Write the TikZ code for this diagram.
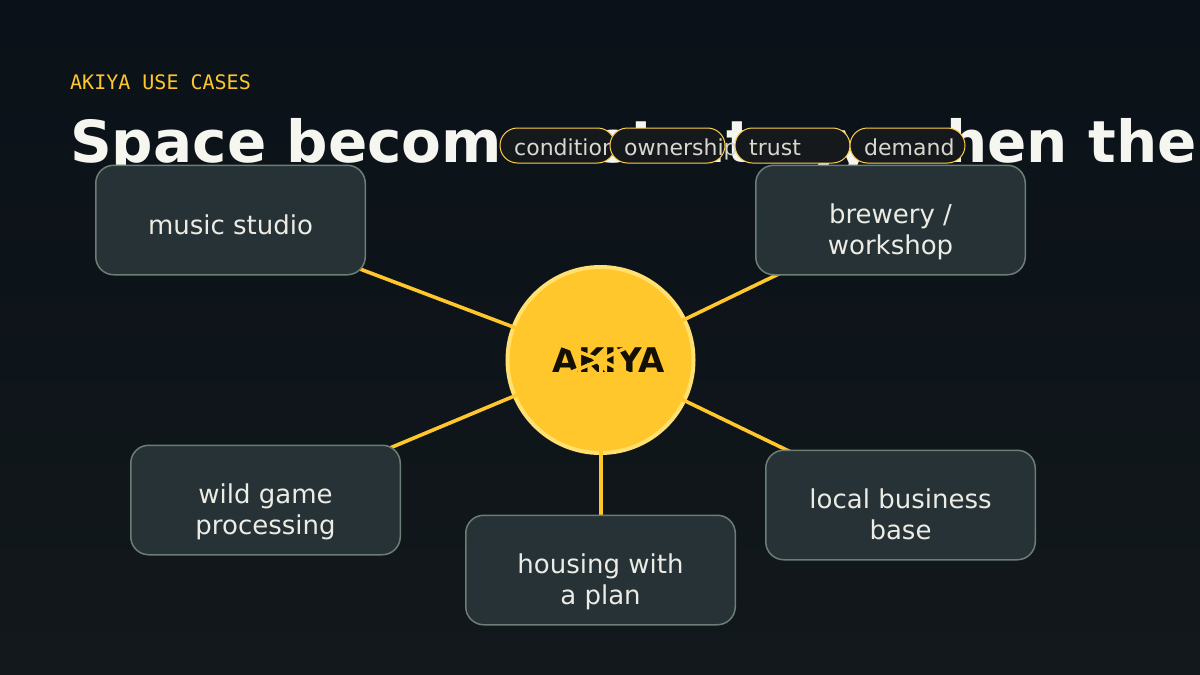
\documentclass[tikz,border=0pt]{standalone}
\usepackage{fontspec}
\setmainfont{DejaVu Sans}
\newfontfamily\monofont{DejaVu Sans Mono}
\definecolor{bgtop}{HTML}{0A1118}
\definecolor{bgbot}{HTML}{12181B}
\definecolor{gold}{HTML}{FFC72C}
\definecolor{goldlight}{HTML}{FFE071}
\definecolor{boxfill}{HTML}{263236}
\definecolor{boxline}{HTML}{6B7D75}
\definecolor{boxtext}{HTML}{ECECE4}
\definecolor{pillfill}{HTML}{15191C}
\definecolor{pilltext}{HTML}{D8D8D0}
\definecolor{titlecol}{HTML}{F6F6F0}
\tikzset{
  x=1pt,y=-1pt,
  usebox/.style={draw=boxline,line width=1.5pt,fill=boxfill,rounded corners=18pt,minimum width=269.5pt,minimum height=109.5pt,inner sep=0pt},
  boxlabel/.style={text=boxtext,align=center,font=\fontsize{26}{31}\selectfont,inner sep=0pt},
  pill/.style={draw=gold!85!white,line width=1pt,fill=pillfill,rounded corners=17.5pt,minimum width=115pt,minimum height=35pt,inner sep=0pt},
  pilllabel/.style={text=pilltext,anchor=base west,font=\fontsize{22}{26}\selectfont,inner sep=0pt},
  spoke/.style={draw=gold,line width=3.6pt}
}
\begin{document}
\begin{tikzpicture}
\useasboundingbox (0,0) rectangle (1200,675);
\fill[top color=bgtop,bottom color=bgbot] (0,0) rectangle (1200,675);
\begin{scope}
\clip (0,0) rectangle (1200,675);
\node[anchor=base west,inner sep=0pt,text=gold,font=\monofont\fontsize{20}{24}\selectfont] (eyebrow) at (70,89) {AKIYA USE CASES};
\node[anchor=base west,inner sep=0pt,text=titlecol,font=\bfseries\fontsize{58}{68}\selectfont] (title) at (70,162) {Space becomes strategy when the};
\end{scope}
\node[pill] (p1) at (557.5,145.5) {};
\node[pilllabel] (t1) at (514,155) {condition};
\node[pill] (p2) at (667.5,145.5) {};
\node[pilllabel] (t2) at (624,155) {ownership};
\node[pill] (p3) at (792.5,145.5) {};
\node[pilllabel] (t3) at (749,155) {trust};
\node[pill] (p4) at (907.5,145.5) {};
\node[pilllabel] (t4) at (864,155) {demand};
\coordinate (hub) at (600.5,360);
\coordinate (hubv) at (601,360);
\coordinate (c1) at (230.5,220);
\coordinate (c2) at (890.5,220);
\coordinate (c3) at (265.5,500);
\coordinate (c4) at (900.5,505);
\coordinate (c5) at (600.5,570);
\coordinate (c5v) at (601,570);
\node[circle,draw=goldlight,line width=4pt,fill=gold,minimum size=186pt,inner sep=0pt] (center) at (hub) {};
\node[anchor=base,inner sep=0pt,text=black!92!gold,font=\bfseries\fontsize{34}{40}\selectfont] (centerlabel) at (608.5,372) {AKIYA};
\draw[spoke] (center.center)--(c1);
\draw[spoke] (center.center)--(c2);
\draw[spoke] (center.center)--(c3);
\draw[spoke] (center.center)--(c4);
\draw[spoke] (hubv)--(c5v);
\node[usebox] (b1) at (c1) {};
\node[usebox] (b2) at (c2) {};
\node[usebox] (b3) at (c3) {};
\node[usebox] (b4) at (c4) {};
\node[usebox] (b5) at (c5) {};
\node[boxlabel] (l1) at (230.5,225) {music studio};
\node[boxlabel] (l2) at (890.5,231.5) {brewery /\\workshop};
\node[boxlabel] (l3) at (265.5,511.5) {wild game\\processing};
\node[boxlabel] (l4) at (900.5,514.5) {local business\\base};
\node[boxlabel] (l5) at (600.5,581.5) {housing with\\a plan};
\end{tikzpicture}
\end{document}
